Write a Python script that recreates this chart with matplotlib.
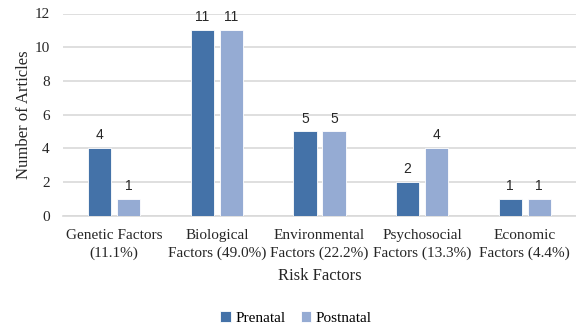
import numpy as np
import matplotlib.pyplot as plt

# Article counts per risk factor group
categories = ['Genetic Factors\n(11.1%)', 'Biological\nFactors (49.0%)',
              'Environmental\nFactors (22.2%)', 'Psychosocial\nFactors (13.3%)',
              'Economic\nFactors (4.4%)']
prenatal = [4, 11, 5, 2, 1]
postnatal = [1, 11, 5, 4, 1]

plt.rcParams['font.family'] = ['Liberation Serif', 'DejaVu Serif']

fig = plt.figure(figsize=(5.76, 3.25), dpi=100)
ax = fig.add_axes([63 / 576, 1 - 215.7 / 325, 1 - 63 / 576, (215.7 - 13.5) / 325])

x = np.arange(len(categories))
w = 0.226
off = 0.142
b1 = ax.bar(x - off, prenatal, w, color='#4472a8', edgecolor='white', linewidth=0.6,
            label='Prenatal', zorder=3)
b2 = ax.bar(x + off, postnatal, w, color='#95abd3', edgecolor='white', linewidth=0.6,
            label='Postnatal', zorder=3)

# value labels above each bar
for bars in (b1, b2):
    for rect in bars:
        h = rect.get_height()
        ax.text(rect.get_x() + rect.get_width() / 2, h + 0.35, str(int(h)),
                ha='center', va='bottom', fontsize=10, family=['Liberation Sans', 'DejaVu Sans'],
                color='#262626')

ax.set_xlim(-0.5, len(categories) - 0.5)
ax.set_ylim(0, 12)
ax.set_yticks(range(0, 13, 2))
ax.set_xticks(x)
ax.set_xticklabels(categories, fontsize=11, color='#262626', linespacing=1.45)
ax.tick_params(axis='y', labelsize=11, colors='#262626', length=0, pad=9.5)
ax.tick_params(axis='x', length=0, pad=9.5)
ax.yaxis.grid(True, color='#d9d9d9', linewidth=1.2, zorder=0)
for s in ['top', 'right', 'left']:
    ax.spines[s].set_visible(False)
ax.spines['bottom'].set_color('#d9d9d9')
ax.spines['bottom'].set_linewidth(1.2)

ax.set_xlabel('Risk Factors', fontsize=12, color='#262626', labelpad=6)
ax.set_ylabel('Number of Articles', fontsize=12, color='#262626')
ax.yaxis.set_label_coords(-31 / 513, 0.5)

fig.legend(handles=[b1, b2], loc='center', bbox_to_anchor=(296 / 576, 1 - 318 / 325),
           ncol=2, frameon=False, fontsize=11, handlelength=0.7, handleheight=0.7,
           handletextpad=0.3, columnspacing=1.0)

fig.savefig('out.png', dpi=100)
